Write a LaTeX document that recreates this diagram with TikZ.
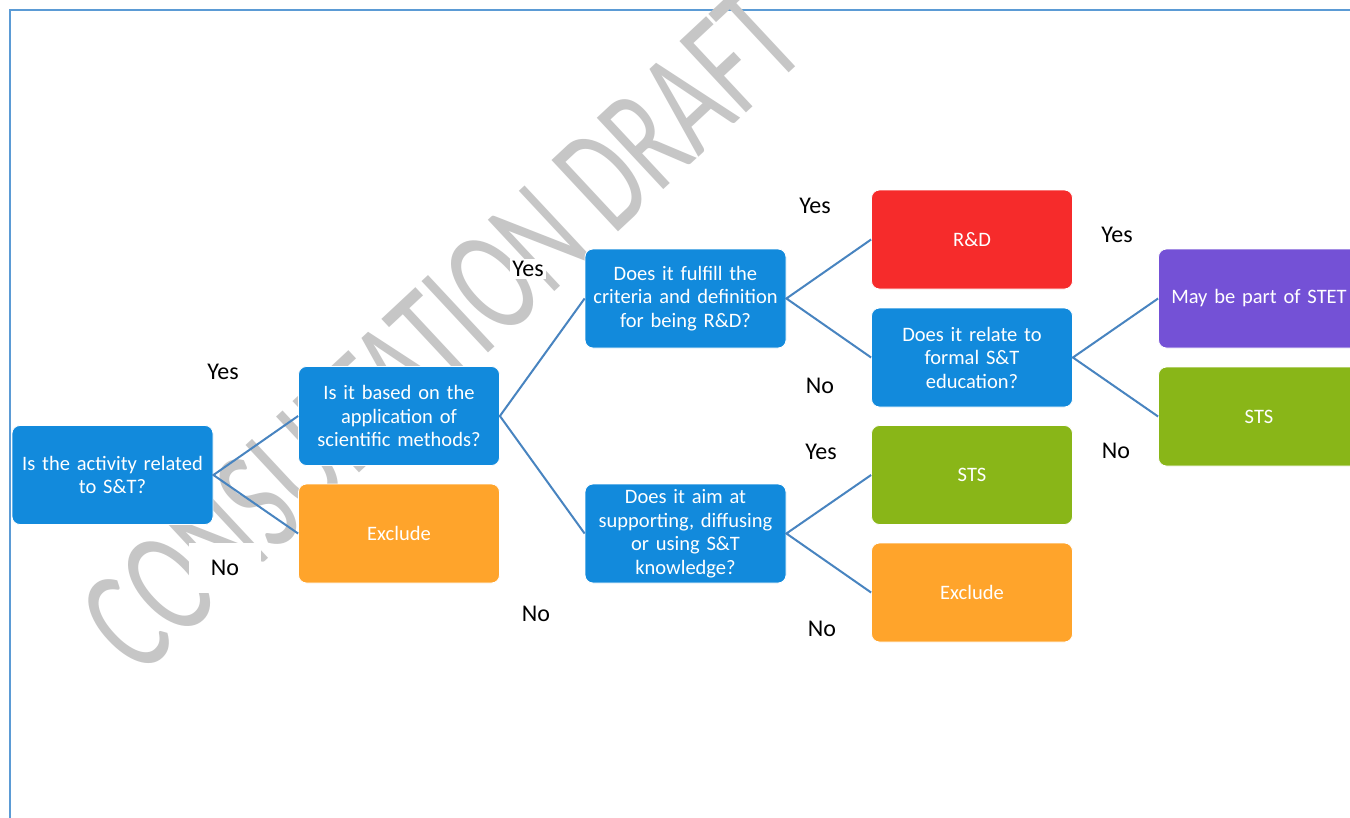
\documentclass[tikz,border=0pt]{standalone}
\usepackage{fontspec}
\setmainfont{Carlito}
\newfontfamily\wmfont{Carlito}
\definecolor{qblue}{RGB}{18,138,220}
\definecolor{qorange}{RGB}{255,164,43}
\definecolor{qred}{RGB}{246,43,43}
\definecolor{qgreen}{RGB}{137,182,24}
\definecolor{qpurple}{RGB}{116,81,214}
\definecolor{qline}{RGB}{72,132,192}
\definecolor{qframe}{RGB}{91,155,213}
\definecolor{qwm}{RGB}{198,198,198}
\tikzset{
  box/.style={rectangle, rounded corners=8pt, minimum width=201pt, minimum height=99pt,
    text width=192pt, align=center, text=white, inner sep=0pt,
    font=\fontsize{20.5}{23.5}\selectfont, draw=white, line width=0.8pt},
  qbox/.style={box, fill=qblue},
  conn/.style={draw=qline, line width=2pt},
  lbl/.style={font=\fontsize{24}{26}\selectfont, text=black, fill=white, inner sep=2pt}
}
\begin{document}
\begin{tikzpicture}[x=1pt,y=-1pt]
\clip (0,0) rectangle (1350,817);
\fill[white] (0,0) rectangle (1350,817);
\draw[qframe, line width=2pt] (10,830) -- (10,10) -- (1360,10);
% watermark
\node[rotate=43, xscale=0.66, text=qwm, inner sep=0pt,
  font=\wmfont\fontsize{152}{160}\selectfont] (wm) at (442,330) {CONSULTATION DRAFT};
% boxes
\node[qbox] (b1) at (112.5,475) {Is the activity related\\to S\&T?};
\node[qbox] (b2) at (399,416) {Is it based on the\\application of\\scientific methods?};
\node[box, fill=qorange] (ex1) at (399,533.5) {Exclude};
\node[qbox] (b4) at (685.5,298.5) {Does it fulfill the\\criteria and definition\\for being R\&D?};
\node[qbox] (b5) at (685.5,533.5) {Does it aim at\\supporting, diffusing\\or using S\&T\\knowledge?};
\node[box, fill=qred] (rd) at (972,239.5) {R\&D};
\node[qbox] (b7) at (972,357.5) {Does it relate to\\formal S\&T\\education?};
\node[box, fill=qgreen] (sts1) at (972,475) {STS};
\node[box, fill=qorange] (ex2) at (972,592.5) {Exclude};
\node[box, fill=qpurple] (stet) at (1259,298.5) {May be part of STET};
\node[box, fill=qgreen] (sts2) at (1259,416.5) {STS};
% connectors
\draw[conn] (b2.west) -- (b1.east) -- (ex1.west);
\draw[conn] (b4.west) -- (b2.east) -- (b5.west);
\draw[conn] (rd.west) -- (b4.east) -- (b7.west);
\draw[conn] (sts1.west) -- (b5.east) -- (ex2.west);
\draw[conn] (stet.west) -- (b7.east) -- (sts2.west);
% labels
\node[lbl] (y1) at (223,372) {Yes};
\node[lbl, minimum width=72pt, minimum height=50pt] (n1) at (225,568) {No};
\node[lbl] (y2) at (528,269) {Yes};
\node[lbl] (n2) at (536,614) {No};
\node[lbl] (y3) at (815,206) {Yes};
\node[lbl] (n3) at (820,386) {No};
\node[lbl] (y4) at (821,452) {Yes};
\node[lbl] (n4) at (822,629) {No};
\node[lbl] (y5) at (1117,235) {Yes};
\node[lbl] (n5) at (1116,451) {No};
\end{tikzpicture}
\end{document}
